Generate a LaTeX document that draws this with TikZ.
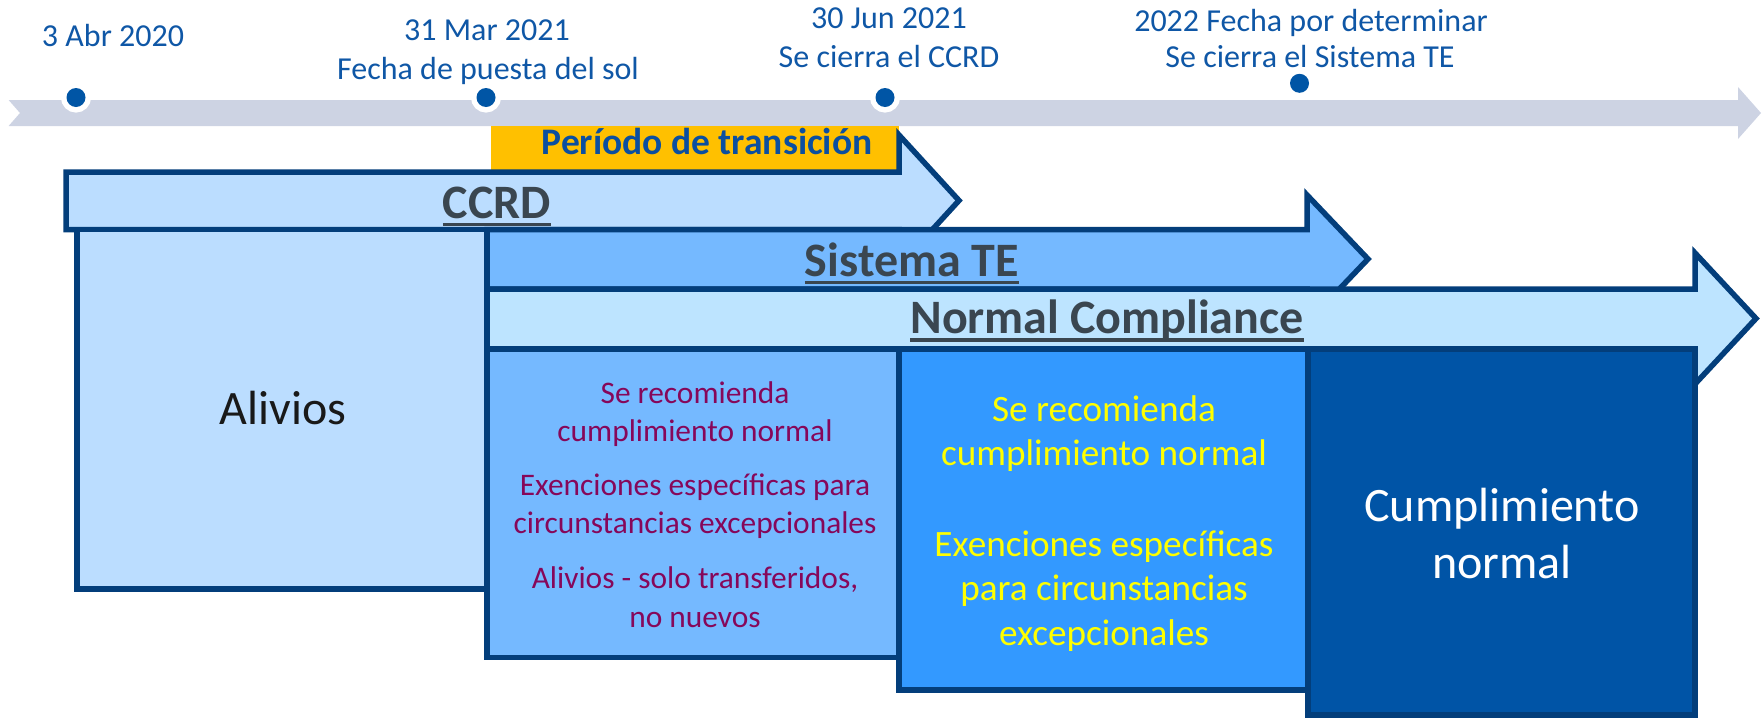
\documentclass[tikz,border=0pt]{standalone}
\usepackage{fontspec}
\setmainfont{Carlito}
\definecolor{bandgray}{HTML}{CDD3E3}
\definecolor{dotblue}{HTML}{0055A5}
\definecolor{datetext}{HTML}{0F57A6}
\definecolor{transyel}{HTML}{FFC000}
\definecolor{transtext}{HTML}{0B4FA0}
\definecolor{edgenavy}{HTML}{033E7B}
\definecolor{ccrdfill}{HTML}{BBDDFF}
\definecolor{tefill}{HTML}{75B9FF}
\definecolor{ncfill}{HTML}{BDE4FF}
\definecolor{boxone}{HTML}{75B9FF}
\definecolor{boxtwo}{HTML}{3399FF}
\definecolor{boxthree}{HTML}{0054A6}
\definecolor{hdrtext}{HTML}{3A4650}
\definecolor{plumtext}{HTML}{86075A}
\definecolor{yeltext}{HTML}{FFFF00}
\tikzset{
  shapeedge/.style={draw=edgenavy, line width=5.5pt, line join=miter},
  dotring/.style={circle, fill=dotblue, minimum size=19pt, inner sep=0pt, preaction={draw=white, line width=11pt}},
  dotplain/.style={circle, fill=dotblue, minimum size=19pt, inner sep=0pt},
  datelbl/.style={text=datetext, font=\fontsize{32}{38}\selectfont, anchor=base, inner sep=0pt},
  translbl/.style={text=transtext, font=\bfseries\fontsize{37.5}{44}\selectfont, anchor=base, inner sep=0pt},
  hdr/.style={text=hdrtext, font=\bfseries\fontsize{48}{56}\selectfont, anchor=base, inner sep=0pt},
  hdrline/.style={draw=hdrtext, line width=3.5pt},
  biglbl/.style={font=\fontsize{48}{56}\selectfont, anchor=base, inner sep=0pt},
  onelbl/.style={text=plumtext, font=\fontsize{31.4}{37}\selectfont, anchor=base, inner sep=0pt},
  twolbl/.style={text=yeltext, font=\fontsize{37.2}{44}\selectfont, anchor=base, inner sep=0pt},
}
\begin{document}
\begin{tikzpicture}[x=1pt,y=-1pt]
\useasboundingbox (0,0) rectangle (1763,718);
% timeline band
\fill[bandgray] (8.6,100) -- (1738,100) -- (1738,87) -- (1761,113) -- (1738,139) -- (1738,126) -- (8.6,126) -- (20,113) -- cycle;
% dots
\node[dotring] (d1) at (76,97.5) {};
\node[dotring] (d2) at (486,97.5) {};
\node[dotring] (d3) at (885,97.5) {};
\node[dotplain] (d4) at (1299.5,83.3) {};
% date labels
\node[datelbl] (t1) at (113,46) {3 Abr 2020};
\node[datelbl] (t2a) at (487,40) {31 Mar 2021};
\node[datelbl] (t2b) at (488,79) {Fecha de puesta del sol};
\node[datelbl] (t3a) at (889,28) {30 Jun 2021};
\node[datelbl] (t3b) at (889,67) {Se cierra el CCRD};
\node[datelbl] (t4a) at (1311,31) {2022 Fecha por determinar};
\node[datelbl] (t4b) at (1310,67) {Se cierra el Sistema TE};
% transition period
\fill[transyel] (491,126) rectangle (899,170);
\node[translbl] (trans) at (707,154) {Período de transición};
% CCRD arrow
\filldraw[shapeedge, fill=ccrdfill] (66,172) -- (899,172) -- (899,135) -- (959,200.5) -- (899,266) -- (899,229.5) -- (66,229.5) -- cycle;
\node[hdr] (ccrd) at (497,218) {CCRD};
\draw[hdrline] ([yshift=-6.5pt]ccrd.base west) -- ([yshift=-6.5pt]ccrd.base east);
% Alivios box
\filldraw[shapeedge, fill=ccrdfill] (77,229.5) rectangle (487,589);
\node[biglbl, text=black!90] (alivios) at (283,424) {Alivios};
% Sistema TE arrow
\filldraw[shapeedge, fill=tefill] (487,229.5) -- (1307,229.5) -- (1307,195) -- (1368,259) -- (1307,323) -- (1307,289) -- (487,289) -- cycle;
\node[hdr] (te) at (912,276) {Sistema TE};
\draw[hdrline] ([yshift=-6.5pt]te.base west) -- ([yshift=-6.5pt]te.base east);
% Normal Compliance arrow
\filldraw[shapeedge, fill=ncfill] (487,289) -- (1695,289) -- (1695,253) -- (1756,318.5) -- (1695,384) -- (1695,349) -- (487,349) -- cycle;
\node[hdr] (nc) at (1107,333) {Normal Compliance};
\draw[hdrline] ([yshift=-7pt]nc.base west) -- ([yshift=-7pt]nc.base east);
% bottom boxes
\filldraw[shapeedge, fill=boxone] (487,349) rectangle (899,657.5);
\filldraw[shapeedge, fill=boxtwo] (899,349) rectangle (1308,690);
\filldraw[shapeedge, fill=boxthree] (1308,349) rectangle (1695,715);
% box one text
\node[onelbl] (b1l1) at (695,403) {Se recomienda};
\node[onelbl] (b1l2) at (695,441) {cumplimiento normal};
\node[onelbl] (b1l3) at (695,495) {Exenciones específicas para};
\node[onelbl] (b1l4) at (695,533) {circunstancias excepcionales};
\node[onelbl] (b1l5) at (695,588) {Alivios - solo transferidos,};
\node[onelbl] (b1l6) at (695,627) {no nuevos};
% box two text
\node[twolbl] (b2l1) at (1104,421) {Se recomienda};
\node[twolbl] (b2l2) at (1104,465) {cumplimiento normal};
\node[twolbl] (b2l3) at (1104,556) {Exenciones específicas};
\node[twolbl] (b2l4) at (1104,600) {para circunstancias};
\node[twolbl] (b2l5) at (1104,645) {excepcionales};
% box three text
\node[biglbl, text=white] (b3l1) at (1502,521) {Cumplimiento};
\node[biglbl, text=white] (b3l2) at (1502,578) {normal};
\end{tikzpicture}
\end{document}
